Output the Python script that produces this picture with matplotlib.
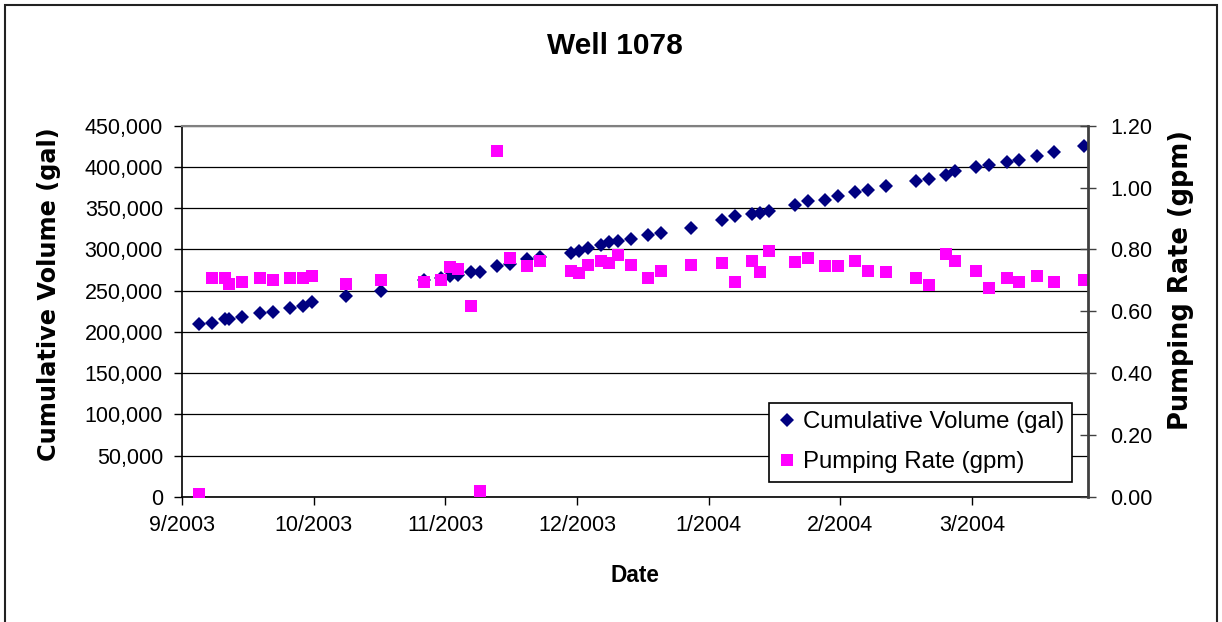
import matplotlib
matplotlib.use("Agg")
import matplotlib.pyplot as plt
import numpy as np
import pandas as pd
from matplotlib.patches import Rectangle
from matplotlib.ticker import FuncFormatter, MultipleLocator

# Well 1078 meter readings
dates = [
    "2003-09-05", "2003-09-08", "2003-09-11", "2003-09-12", "2003-09-15",
    "2003-09-19", "2003-09-22", "2003-09-26", "2003-09-29", "2003-10-01",
    "2003-10-09", "2003-10-17", "2003-10-27", "2003-10-31", "2003-11-02",
    "2003-11-04", "2003-11-07", "2003-11-09", "2003-11-13", "2003-11-16",
    "2003-11-20", "2003-11-23", "2003-11-30", "2003-12-02", "2003-12-04",
    "2003-12-07", "2003-12-09", "2003-12-11", "2003-12-14", "2003-12-18",
    "2003-12-21", "2003-12-28", "2004-01-04", "2004-01-07", "2004-01-11",
    "2004-01-13", "2004-01-15", "2004-01-21", "2004-01-24", "2004-01-28",
    "2004-01-31", "2004-02-04", "2004-02-07", "2004-02-11", "2004-02-18",
    "2004-02-21", "2004-02-25", "2004-02-27", "2004-03-03", "2004-03-06",
    "2004-03-10", "2004-03-13", "2004-03-17", "2004-03-21", "2004-03-28",
]
cum_volume = [
    209200, 211100, 215300, 215500, 218300, 222600, 224800, 229600, 231700, 236200,
    243200, 249900, 262600, 265600, 268100, 269500, 273200, 272900, 280200, 282000,
    288300, 290500, 296300, 298400, 301200, 306000, 308500, 310200, 312600, 317200,
    319400, 326300, 335200, 340000, 342700, 344500, 346900, 353600, 358200, 360500,
    365100, 369600, 372000, 377000, 383300, 385700, 390600, 395400, 399700, 401900,
    406400, 409000, 413400, 418100, 424900,
]
pump_rate = [
    0.01, 0.707, 0.707, 0.688, 0.695, 0.707, 0.701, 0.707, 0.707, 0.713,
    0.689, 0.700, 0.695, 0.700, 0.744, 0.738, 0.616, 0.020, 1.118, 0.774,
    0.745, 0.762, 0.732, 0.724, 0.751, 0.763, 0.756, 0.781, 0.751, 0.707,
    0.732, 0.750, 0.756, 0.695, 0.763, 0.726, 0.794, 0.761, 0.774, 0.745,
    0.745, 0.763, 0.731, 0.726, 0.707, 0.684, 0.786, 0.763, 0.731, 0.677,
    0.707, 0.695, 0.713, 0.695, 0.702,
]
month_labels = ["9/2003", "10/2003", "11/2003", "12/2003", "1/2004", "2/2004", "3/2004"]

start = pd.Timestamp("2003-09-01")
days = np.asarray((pd.to_datetime(dates) - start).days, dtype=float)

W, H = 1222, 622
fig = plt.figure(figsize=(W / 100, H / 100), dpi=100)
fig.patch.set_facecolor("white")

# chart border
fig.patches.append(Rectangle((5 / W, -0.01), 1212 / W, 1.01 - 5 / H,
                             transform=fig.transFigure, fill=False,
                             edgecolor="#222222", linewidth=1.5))

ax = fig.add_axes([182 / W, 1 - 497 / H, 905.7 / W, 371.3 / H])
ax2 = ax.twinx()

ax.set_axisbelow(True)
ax.yaxis.grid(True, color="black", linewidth=0.9)

l1, = ax.plot(days, cum_volume, linestyle="none", marker="D", markersize=7.5,
              color="#000080", markeredgewidth=0, label="Cumulative Volume (gal)")
l2, = ax2.plot(days, pump_rate, linestyle="none", marker="s", markersize=8.3,
               color="#FF00FF", markeredgewidth=0, label="Pumping Rate (gpm)")

ax.set_xlim(0, 209.8)
ax.set_ylim(0, 450000)
ax2.set_ylim(0, 1.2)

ax.set_xticks(np.arange(len(month_labels)) * 30.5)
ax.set_xticklabels(month_labels)
ax.yaxis.set_major_locator(MultipleLocator(50000))
ax.yaxis.set_major_formatter(FuncFormatter(lambda v, p: f"{int(v):,}"))
ax2.yaxis.set_major_locator(MultipleLocator(0.2))
ax2.yaxis.set_major_formatter(FuncFormatter(lambda v, p: f"{v:.2f}"))

for lab in ax.get_xticklabels() + ax.get_yticklabels() + ax2.get_yticklabels():
    lab.set_fontfamily("Liberation Sans")
    lab.set_fontsize(15.5)

ax.tick_params(axis="y", direction="out", length=6, width=1, pad=7.7, colors="black")
ax.tick_params(axis="x", direction="out", length=5.5, width=1, pad=7.5, colors="black")
ax2.tick_params(axis="y", direction="inout", length=12, width=1, pad=10,
                color="#404040", labelcolor="black")

for s in ["top", "left", "bottom"]:
    ax2.spines[s].set_visible(False)
ax.spines["right"].set_visible(False)
ax.spines["top"].set_color("#808080")
ax.spines["top"].set_linewidth(1.5)
ax.spines["left"].set_linewidth(1.2)
ax.spines["bottom"].set_linewidth(1.2)
ax2.spines["right"].set_color("#404040")
ax2.spines["right"].set_linewidth(2)

leg = ax2.legend([l1, l2], [l1.get_label(), l2.get_label()],
                 loc="upper left", bbox_to_anchor=(769 / W, 1 - 403 / H),
                 bbox_transform=fig.transFigure, borderaxespad=0,
                 prop={"family": "Liberation Sans", "size": 17.3},
                 numpoints=1, handlelength=0.8, handletextpad=0.25,
                 borderpad=0.35, labelspacing=0.75, fancybox=False,
                 framealpha=1, edgecolor="black")
leg.get_frame().set_linewidth(1.2)

fig.text(615 / W, 1 - 46 / H, "Well 1078", ha="center", va="center",
         fontsize=21.5, fontweight="bold", family="Liberation Sans")
fig.text(635 / W, 1 - 576 / H, "Date", ha="center", va="center",
         fontsize=16.3, fontweight="bold", family="Liberation Sans")
fig.text(49 / W, 1 - 294.5 / H, "Cumulative Volume (gal)", ha="center", va="center",
         rotation=90, fontsize=17.3, fontweight="bold", family="DejaVu Sans")
fig.text(1181 / W, 1 - 280.5 / H, "Pumping Rate (gpm)", ha="center", va="center",
         rotation=90, fontsize=18.5, fontweight="bold", family="DejaVu Sans")

fig.savefig("out.png", dpi=100)
